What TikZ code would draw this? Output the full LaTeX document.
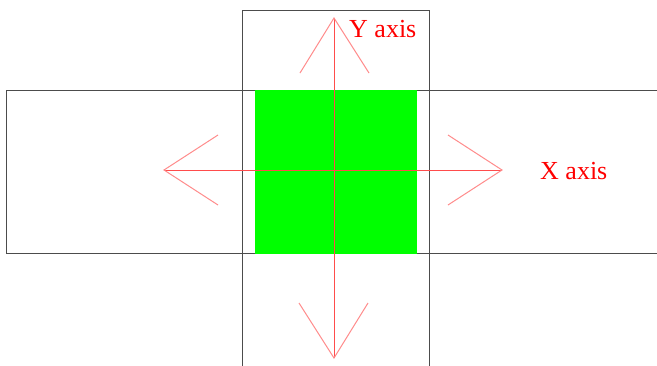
\documentclass[tikz,border=0pt]{standalone}
\usepackage{fontspec}
\setmainfont{Liberation Serif}
\begin{document}
\begin{tikzpicture}[x=1pt,y=-1pt,
  frame/.style={draw=black!70,line width=0.8pt},
  axisline/.style={draw=red!70,line width=1pt},
  barb/.style={draw=red!45,line width=1pt},
  lbl/.style={text=red,font=\fontsize{26}{26}\selectfont,inner sep=0pt}]
\clip (0,0) rectangle (657,365);
\useasboundingbox (0,0) rectangle (657,365);
\fill[white] (0,0) rectangle (657,365);
% frames
\draw[frame] (6,90) rectangle (680,253);
\draw[frame] (242,10) rectangle (429,380);
% green square
\node[fill=green,draw=none,minimum width=162pt,minimum height=164pt,inner sep=0pt] (sq) at (336,172) {};
% axis tips
\coordinate (L) at (164,170);
\coordinate (R) at (502,170);
\coordinate (T) at (334,18);
\coordinate (B) at (334,358);
\draw[axisline] (L) -- (R);
\draw[axisline] (T) -- (B);
% barbs
\draw[barb] (218,135) -- (L) -- (218,205);
\draw[barb] (448,135) -- (R) -- (448,205);
\draw[barb] (300,73) -- (T) -- (369,73);
\draw[barb] (299,303) -- (B) -- (368,303);
% labels
\node[lbl,anchor=base west] (ylab) at (349,37) {Y axis};
\node[lbl,anchor=base west] (xlab) at (540,179) {X axis};
\end{tikzpicture}
\end{document}
